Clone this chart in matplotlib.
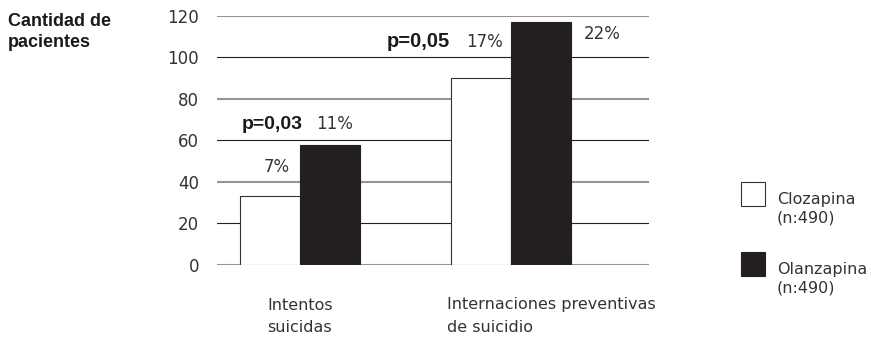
import matplotlib
matplotlib.use("Agg")
import matplotlib.pyplot as plt
from matplotlib.patches import Rectangle
import numpy as np

plt.rcParams['font.family'] = ['DejaVu Sans']
BOLD = ['Liberation Sans', 'DejaVu Sans']

# datos
categorias = ['Intentos\nsuicidas', 'Internaciones preventivas\nde suicidio']
clozapina = [33, 90]
olanzapina = [58, 117]
pct_cloza = ['7%', '17%']
pct_olanza = ['11%', '22%']
p_valores = ['p=0,03', 'p=0,05']
series = ['Clozapina\n(n:490)', 'Olanzapina\n(n:490)']
yticks = [0, 20, 40, 60, 80, 100, 120]

W, H = 871, 339
fig = plt.figure(figsize=(W / 100, H / 100), dpi=100)
ax = fig.add_axes([217 / W, 1 - 265 / H, (649 - 217) / W, (265 - 15.7) / H])

negro = '#231f20'
gris = '#949494'
texto = '#333333'

x = np.arange(len(categorias))
ancho = 0.285

# líneas horizontales alternadas gris / negro
for i, t in enumerate(yticks):
    if i % 2 == 0:
        ax.axhline(t, color=gris, lw=1.5, zorder=1)
    else:
        ax.axhline(t, color='#222222', lw=0.8, zorder=1)

ax.bar(x - ancho / 2, clozapina, ancho, color='white', edgecolor='#333333', lw=0.8, zorder=2)
ax.bar(x + ancho / 2, olanzapina, ancho, color=negro, edgecolor=negro, lw=0.8, zorder=2)

ax.set_xlim(-0.393, 1.654)
ax.set_ylim(0, 120)
ax.set_yticks(yticks)
ax.set_xticks([])
ax.tick_params(axis='y', length=0, pad=13, labelsize=12, labelcolor=texto)
for s in ax.spines.values():
    s.set_visible(False)

# porcentajes y valores p
fs = 12
ax.text(x[0] - ancho / 2 + 0.03, clozapina[0] + 12, pct_cloza[0], ha='center', va='baseline',
        fontsize=fs, color=texto)
ax.text(x[0] + ancho / 2 + 0.02, 65.3, pct_olanza[0], ha='center', va='baseline',
        fontsize=fs, color=texto)
ax.text(0.014, 65.3, p_valores[0], ha='right', va='baseline', fontsize=14,
        fontweight='bold', color='#1a1a1a', family=BOLD)

ax.text(x[1] - ancho / 2 + 0.017, 104.8, pct_cloza[1], ha='center', va='baseline',
        fontsize=fs, color=texto)
ax.text(1.434, 108.6, pct_olanza[1], ha='center', va='baseline', fontsize=fs, color=texto)
ax.text(0.711, 104.8, p_valores[1], ha='right', va='baseline', fontsize=14.5,
        fontweight='bold', color='#1a1a1a', family=BOLD)

# etiquetas de categoría
for xpx, cat in zip([267, 447], categorias):
    fig.text(xpx / W, 1 - 331.7 / H, cat, ha='left', va='baseline', fontsize=11.5,
             color=texto, linespacing=1.6)

# título del eje
fig.text(8 / W, 1 - 46.7 / H, 'Cantidad de\npacientes', ha='left', va='baseline',
         fontsize=13, fontweight='bold', color='#1a1a1a', linespacing=1.3, family=BOLD)

# leyenda
for (ytop, col), lab in zip([(182, 'white'), (252, negro)], series):
    fig.patches.append(Rectangle((741 / W, 1 - (ytop + 24) / H), 24 / W, 24 / H,
                                 transform=fig.transFigure, facecolor=col,
                                 edgecolor='#333333' if col == 'white' else negro, lw=0.8))
    fig.text(777 / W, 1 - (ytop + 40.7) / H, lab, ha='left', va='baseline', fontsize=11.5,
             color=texto, linespacing=1.3)

fig.savefig('out.png', dpi=100, facecolor='white')
